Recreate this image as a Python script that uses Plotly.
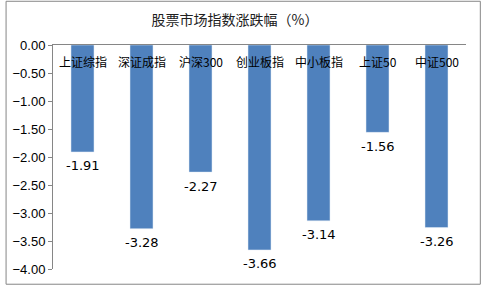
import plotly.graph_objects as go

categories = ["上证综指", "深证成指", "沪深300", "创业板指", "中小板指", "上证50", "中证500"]
values = [-1.91, -3.28, -2.27, -3.66, -3.14, -1.56, -3.26]
ytick_vals = [0, -0.5, -1.0, -1.5, -2.0, -2.5, -3.0, -3.5, -4.0]
title_text = "股票市场指数涨跌幅（%）"

W, H = 481, 289
ml, mr, mt, mb = 48, 15, 45, 16
pw, ph = W - ml - mr, H - mt - mb

fig = go.Figure(go.Bar(
    x=categories, y=values,
    marker_color="#4F81BD",
    width=0.39,
    cliponaxis=False,
))

annotations = []
for c, v in zip(categories, values):
    annotations.append(dict(x=c, y=v, xref="x", yref="y", text=f"{v:.2f}",
                            showarrow=False, yanchor="middle", yshift=-14,
                            font=dict(family="DejaVu Sans", size=13, color="#000000")))
    annotations.append(dict(x=c, y=0, xref="x", yref="y", text=c,
                            showarrow=False, yanchor="middle", yshift=-16,
                            font=dict(family="Noto Sans CJK SC", size=12, color="#000000")))

fig.update_layout(
    width=W, height=H,
    margin=dict(l=ml, r=mr, t=mt, b=mb),
    paper_bgcolor="white", plot_bgcolor="white",
    showlegend=False,
    title=dict(text=title_text, x=235 / W, xref="container", xanchor="center",
               y=1 - 20 / H, yanchor="middle",
               font=dict(family="Noto Sans CJK SC", size=14, color="#202020")),
    xaxis=dict(side="top", showticklabels=False, showline=True,
               linecolor="#868686", linewidth=1, ticks="", showgrid=False),
    yaxis=dict(range=[-4, 0], tickvals=ytick_vals, tickformat=".2f",
               showline=True, linecolor="#868686", linewidth=1,
               ticks="outside", ticklen=4, tickcolor="#868686",
               showgrid=False, zeroline=False,
               tickfont=dict(family="Arial, Liberation Sans", size=13, color="#000000")),
    annotations=annotations,
    shapes=[dict(type="rect", xref="paper", yref="paper",
                 x0=(0.5 - ml) / pw, x1=(W - 0.5 - ml) / pw,
                 y0=(ph + mt - (H - 0.5)) / ph, y1=(ph + mt - 0.5) / ph,
                 line=dict(color="#868686", width=1), layer="below")],
)

fig.write_html("out.html")
